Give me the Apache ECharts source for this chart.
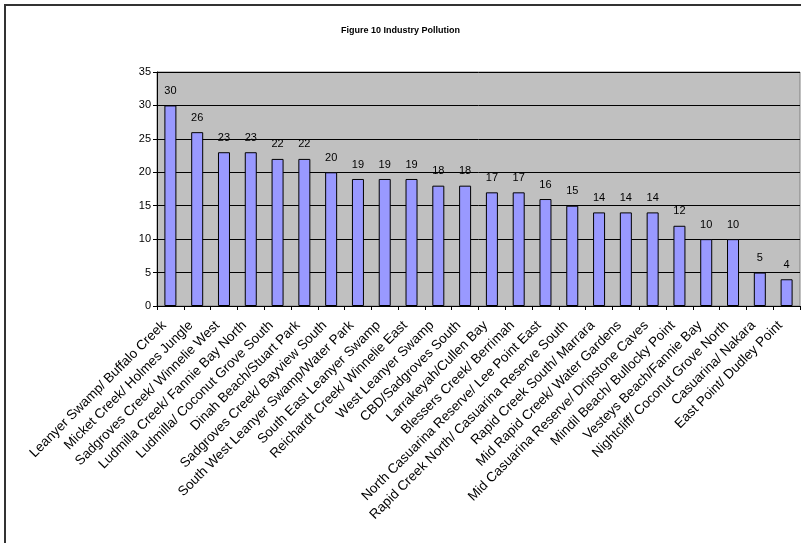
<!DOCTYPE html>
<html><head><meta charset="utf-8">
<script src="https://cdn.jsdelivr.net/npm/echarts@6/dist/echarts.min.js"></script>
<style>html,body{margin:0;padding:0;background:#fff}#c{width:801px;height:543px}</style>
</head><body><div id="c"></div>
<script>
const categories = [
 "Leanyer Swamp/ Buffalo Creek","Micket Creek/ Holmes Jungle","Sadgroves Creek/ Winnelie West",
 "Ludmilla Creek/ Fannie Bay North","Ludmilla/ Coconut Grove South","Dinah Beach/Stuart Park",
 "Sadgroves Creek/ Bayview South","South West Leanyer Swamp/Water Park","South East Leanyer Swamp",
 "Reichardt Creek/ Winnelie East","West Leanyer Swamp","CBD/Sadgroves South","Larrakeyah/Cullen Bay",
 "Blessers Creek/ Berrimah","North Casuarina Reserve/ Lee Point East","Rapid Creek North/ Casuarina Reserve South",
 "Rapid Creek South/ Marrara","Mid Rapid Creek/ Water Gardens","Mid Casuarina Reserve/ Dripstone Caves",
 "Mindil Beach/ Bullocky Point","Vesteys Beach/Fannie Bay","Nightcliff/ Coconut Grove North",
 "Casuarina/ Nakara","East Point/ Dudley Point"];
const values = [30,26,23,23,22,22,20,19,19,19,18,18,17,17,16,15,14,14,14,12,10,10,5,4];
const yTicks = {min:0, max:35, interval:5};
const title = "Figure 10 Industry Pollution";

const chart = echarts.init(document.getElementById('c'));
chart.setOption({
  animation:false,
  backgroundColor:'#fff',
  title:{text:title,left:'center',top:21,textStyle:{fontFamily:'Liberation Sans, Arial',fontSize:9,fontWeight:'bold',color:'#000'}},
  graphic:[{type:'rect',shape:{x:5,y:5,width:820,height:560},style:{fill:'none',stroke:'#333',lineWidth:2},silent:true}],
  grid:{left:157,right:1,top:72,bottom:237,show:true,backgroundColor:'#C0C0C0',borderColor:'#808080',borderWidth:1},
  xAxis:{type:'category',data:categories,
    axisLine:{lineStyle:{color:'#000',width:1}},
    axisTick:{show:true,length:4,lineStyle:{color:'#000'}},
    axisLabel:{rotate:45,interval:0,margin:11,padding:[0,9,0,0],fontFamily:'Liberation Sans, Arial',fontSize:13.5,color:'#000'}},
  yAxis:{type:'value',min:yTicks.min,max:yTicks.max,interval:yTicks.interval,
    axisLine:{show:true,lineStyle:{color:'#000'}},
    axisTick:{show:true,length:4,lineStyle:{color:'#000'}},
    axisLabel:{fontFamily:'Liberation Sans, Arial',fontSize:11,color:'#000',margin:6},
    splitLine:{lineStyle:{color:'#000',width:1}}},
  series:[{type:'bar',data:values,barWidth:12,
    itemStyle:{color:'#9999FF',borderColor:'#000',borderWidth:1},
    label:{show:true,position:'top',distance:9,fontFamily:'Liberation Sans, Arial',fontSize:11,color:'#000'}}]
});
</script></body></html>
